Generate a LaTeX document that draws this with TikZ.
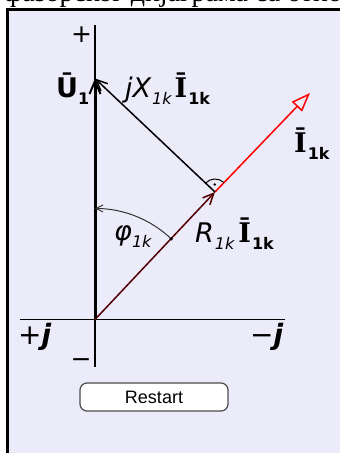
\documentclass[tikz,border=0pt]{standalone}
\usepackage{fontspec}
\setmainfont{DejaVu Sans}
\newfontfamily\ibarfont{DejaVu Serif}
\newfontfamily\btnfont{Liberation Sans}
\newfontfamily\topfont{Liberation Serif}
\usetikzlibrary{arrows.meta}
\definecolor{panel}{RGB}{235,235,250}
\definecolor{rline}{RGB}{85,0,0}
\newcommand\lsub[1]{\raisebox{-7pt}{\fontsize{16}{16}\selectfont #1}}
\newcommand\Ivec{{\ibarfont\bfseries Ī}\kern1pt\lsub{\bfseries 1k}}
\begin{document}
\begin{tikzpicture}[x=1pt,y=1pt,
  axis/.style={line width=1.3pt},
  vec/.style={line width=1.5pt,-{Straight Barb[length=11pt,width=10pt,line width=1.5pt]}},
  lbl/.style={font=\fontsize{27}{30}\selectfont,inner sep=0pt,anchor=base west}]
  \useasboundingbox (0,0) rectangle (340,453);
  \node[font=\topfont\fontsize{28}{30}\selectfont,inner sep=0pt,anchor=base west] (title)
    at (4,451) {фазорског дијаграма са отпорношћу};
  % panel
  \fill[panel] (7.5,-5) rectangle (350,443.5);
  \draw[line width=2.5pt] (7.5,-5) -- (7.5,443.5) -- (350,443.5);
  % axes
  \coordinate (O) at (95,133.5);
  \coordinate (ytop) at (95,428);
  \coordinate (ybot) at (95,86);
  \coordinate (xl) at (20,133.5);
  \coordinate (xr) at (285,133.5);
  \draw[axis] (ybot) -- (ytop);
  \draw[axis] (xl) -- (xr);
  \node[lbl,font=\fontsize{25}{30}\selectfont,anchor=center] (plus) at (81.5,418) {+};
  \node[lbl,font=\fontsize{25}{30}\selectfont,anchor=center] (minus) at (81,90) {−};
  \node[lbl,font=\fontsize{28}{30}\selectfont] (pj) at (18,108) {+{\bfseries\itshape j}};
  \node[lbl,font=\fontsize{28}{30}\selectfont] (mj) at (250,108) {−{\bfseries\itshape j}};
  % phasors
  \coordinate (U) at (95,374.5);
  \coordinate (K) at (215,261);
  \coordinate (T) at (310,360);
  \draw[red,line width=1.5pt,-{Triangle[open,length=19pt,width=14pt,line width=1.5pt]}] (K) -- (T);
  \draw[line width=3pt,-{Straight Barb[length=13pt,width=11pt,line width=2pt]}] (O) -- (U);
  \draw[vec] (K) -- (U);
  \draw[vec,rline] (O) -- (K);
  % right angle and phase angle
  \draw[line width=1pt] (K) ++(46.6:13) arc[start angle=46.6,end angle=136.6,radius=13];
  \fill (K) ++(91.6:7.5) circle (1.3pt);
  \path (O) ++(46.6:111) coordinate (phi);
  \draw[black!80,line width=1pt,-{Straight Barb[length=7pt,width=7pt]}]
    (phi) arc[start angle=46.6,end angle=90,radius=111];
  \fill (phi) circle (1.7pt);
  % labels
  \node[lbl] (lU) at (56,355) {{\bfseries Ū}\lsub{\bfseries 1}};
  \node[lbl] (lX) at (125,355) {{\itshape jX}\kern1pt\lsub{\itshape 1k}\kern3pt\Ivec};
  \node[lbl] (lphi) at (114,212) {{\itshape φ}\lsub{\itshape 1k}};
  \node[lbl] (lR) at (195,210) {{\itshape R}\kern1pt\lsub{\itshape 1k}\kern4pt\Ivec};
  \node[lbl] (lI) at (294,300) {\Ivec};
  % button
  \node[draw=black!70,line width=1.2pt,fill=white,rounded corners=7pt,
    minimum width=148pt,minimum height=28pt,font=\btnfont\fontsize{18}{20}\selectfont]
    (restart) at (154,56) {Restart};
\end{tikzpicture}
\end{document}
